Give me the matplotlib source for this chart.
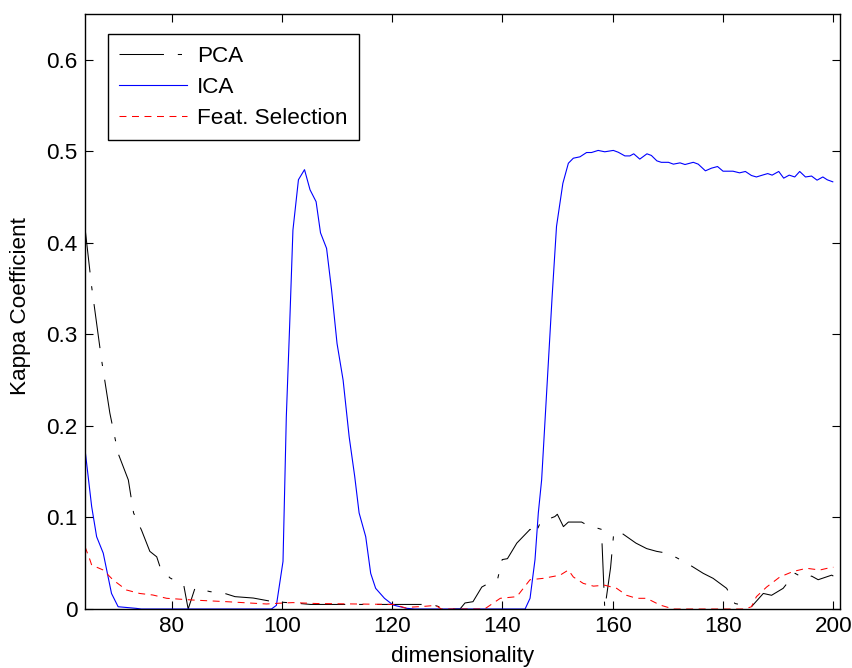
import matplotlib
matplotlib.use("Agg")
import matplotlib.pyplot as plt

plt.rcParams['font.family'] = ['Liberation Sans', 'DejaVu Sans']
plt.rcParams['lines.scale_dashes'] = False

# PCA curve
pca_x = [64.3, 65.5, 67.3, 68.8, 70.3, 72.15, 73.1, 74.55, 76.05, 77.3, 77.9, 79.7,
         82.2, 83.0, 84.25, 86.95, 89.65, 91.5, 94.8, 98.4, 102.1, 105.2, 120.25,
         125.3, 127.7, 129.8, 132.3, 133.2, 134.65, 136.25, 138.05, 139.15, 139.95,
         140.9, 142.6, 145.0, 145.9, 146.9, 149.5, 149.95, 151.05, 151.95, 154.35,
         155.25, 157.95, 158.55, 159.6, 160.2, 161.6, 164.2, 166.15, 167.95, 169.8,
         171.6, 174.0, 176.4, 178.2, 180.65, 182.15, 185.15, 187.3, 188.8, 190.9,
         193.05, 194.85, 196.05, 197.25, 199.7, 200.0]
pca_y = [0.416, 0.352, 0.272, 0.214, 0.170, 0.141, 0.105, 0.086, 0.063, 0.057, 0.046, 0.034,
         0.026, 0.000, 0.023, 0.019, 0.017, 0.0135, 0.012, 0.008, 0.0066, 0.005, 0.005,
         0.005, 0.004, 0.0, 0.0, 0.0066, 0.008, 0.024, 0.030, 0.0335, 0.054,
         0.055, 0.072, 0.087, 0.081, 0.095, 0.101, 0.1035, 0.090, 0.095, 0.095,
         0.092, 0.087, 0.0, 0.045, 0.0845, 0.083, 0.072, 0.066, 0.063, 0.061,
         0.056, 0.048, 0.039, 0.0335, 0.0226, 0.006, 0.0025, 0.017, 0.015, 0.0226,
         0.039, 0.033, 0.036, 0.032, 0.037, 0.036]

# ICA curve
ica_x = [64.3, 65.5, 66.4, 67.6, 69.1, 70.3, 73.6, 74.5, 98.1, 99.0, 100.2, 100.8,
         101.4, 102.0, 103.0, 104.1, 105.1, 106.2, 107.0, 108.1, 109.0, 110.0, 111.1,
         112.2, 113.2, 114.0, 115.2, 116.1, 117.0, 118.6, 120.15, 122.6, 124.0, 144.1,
         145.0, 145.9, 146.5, 147.1, 149.0, 149.8, 150.95, 151.95, 152.85, 154.05,
         155.25, 156.15, 157.35, 158.55, 160.1, 161.0, 162.2, 163.1, 163.8, 164.9,
         166.2, 167.0, 168.0, 168.8, 170.1, 171.0, 172.2, 173.1, 174.6, 175.5, 176.8,
         177.9, 179.0, 180.0, 181.8, 183.0, 184.05, 185.15, 186.05, 187.3, 188.1,
         188.9, 190.1, 191.0, 192.0, 193.0, 193.9, 194.95, 196.05, 197.05, 198.1,
         198.9, 199.9]
ica_y = [0.174, 0.112, 0.079, 0.061, 0.017, 0.0025, 0.0007, 0.0, 0.0, 0.004, 0.052, 0.21,
         0.309, 0.414, 0.469, 0.480, 0.458, 0.445, 0.411, 0.394, 0.349, 0.290, 0.250,
         0.188, 0.145, 0.105, 0.079, 0.039, 0.0226, 0.0117, 0.0044, 0.0008, 0.0, 0.0,
         0.0117, 0.054, 0.105, 0.141, 0.341, 0.418, 0.465, 0.487, 0.4925, 0.494,
         0.4987, 0.4987, 0.501, 0.4995, 0.501, 0.499, 0.495, 0.495, 0.4973, 0.4915,
         0.4973, 0.4955, 0.4896, 0.488, 0.488, 0.486, 0.4874, 0.4856, 0.488, 0.486, 0.4787,
         0.4816, 0.4834, 0.4783, 0.4783, 0.4765, 0.478, 0.4736, 0.472, 0.4743, 0.4757,
         0.474, 0.478, 0.4707, 0.474, 0.472, 0.478, 0.472, 0.473, 0.4685, 0.472,
         0.4689, 0.4667]

# Feature selection curve
fs_x = [64.3, 65.2, 65.5, 67.6, 69.4, 71.8, 74.2, 76.6, 79.1, 83.9, 90.0, 97.2, 100.0,
        102.0, 106.3, 120.25, 122.55, 123.3, 126.0, 127.9, 128.9, 136.75, 139.6, 142.6,
        145.0, 147.4, 150.45, 151.95, 152.85, 154.65, 156.5, 158.55, 160.7, 162.5,
        164.3, 166.15, 168.55, 171.0, 184.0, 185.15, 186.05, 187.9, 190.3, 192.7,
        195.15, 197.55, 199.7, 200.0]
fs_y = [0.068, 0.0535, 0.048, 0.0426, 0.0317, 0.0208, 0.017, 0.0153, 0.0117, 0.0098, 0.008,
        0.0055, 0.0065, 0.007, 0.006, 0.005, 0.001, 0.002, 0.003, 0.004, 0.0, 0.0, 0.0117,
        0.0135, 0.032, 0.0335, 0.037, 0.0426, 0.035, 0.028, 0.025, 0.026, 0.0226, 0.015,
        0.0117, 0.0117, 0.0044, 0.0, 0.0, 0.0025, 0.0135, 0.024, 0.035, 0.041,
        0.0445, 0.0426, 0.0456, 0.0456]

x_ticks = [80, 100, 120, 140, 160, 180, 200]
y_ticks = [0, 0.1, 0.2, 0.3, 0.4, 0.5, 0.6]
y_tick_labels = ['0', '0.1', '0.2', '0.3', '0.4', '0.5', '0.6']

fs = 16.2

fig = plt.figure(figsize=(8.53, 6.68), dpi=100)
ax = fig.add_axes([0.0997, 0.0883, 0.8850, 0.8907])

ax.plot(pca_x, pca_y, color='black', lw=0.75, linestyle=(0, (32, 10, 3, 10)), label='PCA')
ax.plot(ica_x, ica_y, color='blue', lw=0.8, label='ICA')
ax.plot(fs_x, fs_y, color='red', lw=0.75, linestyle=(0, (5, 4)), label='Feat. Selection')

ax.set_xlim(64.3, 201.2)
ax.set_ylim(0, 0.65)
ax.set_xticks(x_ticks)
ax.set_yticks(y_ticks)
ax.set_yticklabels(y_tick_labels)
ax.tick_params(direction='in', top=True, right=True, length=6, width=0.8,
               labelsize=fs)
ax.tick_params(axis='x', pad=5)
ax.tick_params(axis='y', pad=5.5)
for s in ax.spines.values():
    s.set_linewidth(1.0)

ax.set_xlabel('dimensionality', fontsize=fs)
ax.xaxis.set_label_coords(0.5, -0.062)
ax.set_ylabel('Kappa Coefficient', fontsize=fs)
ax.yaxis.set_label_coords(-0.071, 0.51)

leg = ax.legend(loc='upper left', bbox_to_anchor=(0.0305, 0.966), borderaxespad=0,
                fontsize=fs, handlelength=3.0, handletextpad=0.45, labelspacing=0.45,
                borderpad=0.5, fancybox=False, framealpha=1, edgecolor='black')
leg.get_frame().set_linewidth(1.0)

fig.savefig('out.png', dpi=100)
